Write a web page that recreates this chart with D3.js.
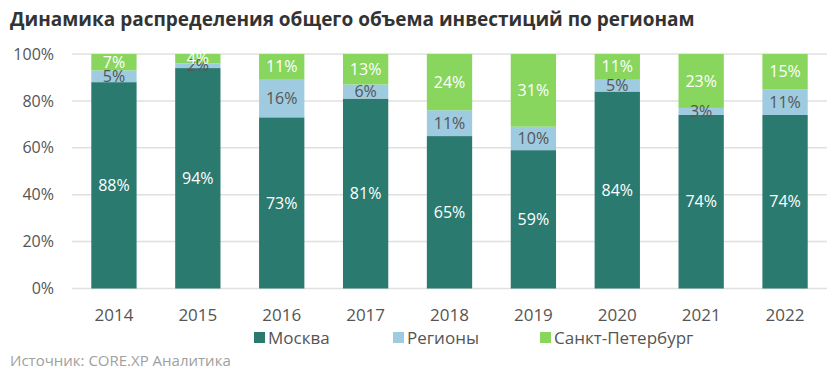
<!DOCTYPE html>
<html><head><meta charset="utf-8">
<script src="https://cdn.jsdelivr.net/npm/d3@7"></script>
<style>
body{margin:0;background:#fff;}
svg{display:block;font-family:"Open Sans",sans-serif;}
</style></head>
<body>
<svg id="chart" width="832" height="374"></svg>
<script>
const years = ["2014","2015","2016","2017","2018","2019","2020","2021","2022"];
const moscow = [88,94,73,81,65,59,84,74,74];
const regions = [5,2,16,6,11,10,5,3,11];
const spb = [7,4,11,13,24,31,11,23,15];
const seriesNames = ["Москва","Регионы","Санкт-Петербург"];
const yTicks = [0,20,40,60,80,100];

const colors = ["#2b7a6f","#9ecbe0","#88d65d"];
const labelColors = ["#ffffff","#555555","#ffffff"];

const svg = d3.select("#chart");
const x = d3.scaleBand().domain(years).range([72,827]).paddingInner(0.46).paddingOuter(0.23);
const y = d3.scaleLinear().domain([0,100]).range([288.5,54]);

svg.append("text").attr("x",10).attr("y",26).attr("font-size",19).attr("font-weight",700)
  .attr("fill","#333").text("Динамика распределения общего объема инвестиций по регионам");

// grid
svg.append("g").selectAll("line").data(yTicks).join("line")
  .attr("x1",72).attr("x2",827).attr("y1",d=>y(d)).attr("y2",d=>y(d))
  .attr("stroke","#e0e0e0").attr("stroke-width",1.5);
svg.append("g").selectAll("text").data(yTicks).join("text")
  .attr("x",54).attr("y",d=>y(d)).attr("dy","0.35em").attr("text-anchor","end")
  .attr("font-size",16).attr("fill","#555").text(d=>d+"%");

const table = years.map((yr,i)=>({year:yr,"Москва":moscow[i],"Регионы":regions[i],"Санкт-Петербург":spb[i]}));
const stacked = d3.stack().keys(seriesNames)(table);

stacked.forEach((s,si)=>{
  const g = svg.append("g");
  g.selectAll("rect").data(s).join("rect")
    .attr("x",d=>x(d.data.year)).attr("width",x.bandwidth())
    .attr("y",d=>y(d[1])).attr("height",d=>y(d[0])-y(d[1]))
    .attr("fill",colors[si]);
});
stacked.forEach((s,si)=>{
  svg.append("g").selectAll("text").data(s).join("text")
    .attr("x",d=>x(d.data.year)+x.bandwidth()/2)
    .attr("y",d=>y((d[0]+d[1])/2)).attr("dy","0.35em")
    .attr("text-anchor","middle").attr("font-size",16).attr("fill",labelColors[si])
    .text(d=>(d[1]-d[0])+"%");
});

// x labels
svg.append("g").selectAll("text").data(years).join("text")
  .attr("x",d=>x(d)+x.bandwidth()/2).attr("y",315).attr("dy","0.35em")
  .attr("text-anchor","middle").attr("font-size",17).attr("fill","#555").text(d=>d);

// legend
const legX = [254,393,540];
seriesNames.forEach((n,i)=>{
  svg.append("rect").attr("x",legX[i]).attr("y",332).attr("width",11).attr("height",11).attr("fill",colors[i]);
  svg.append("text").attr("x",legX[i]+14).attr("y",338).attr("dy","0.35em")
    .attr("font-size",17).attr("fill","#555").text(n);
});

svg.append("text").attr("x",10).attr("y",361).attr("dy","0.35em").attr("font-size",15)
  .attr("fill","#a0a0a0").text("Источник: CORE.XP Аналитика");
</script>
</body></html>
